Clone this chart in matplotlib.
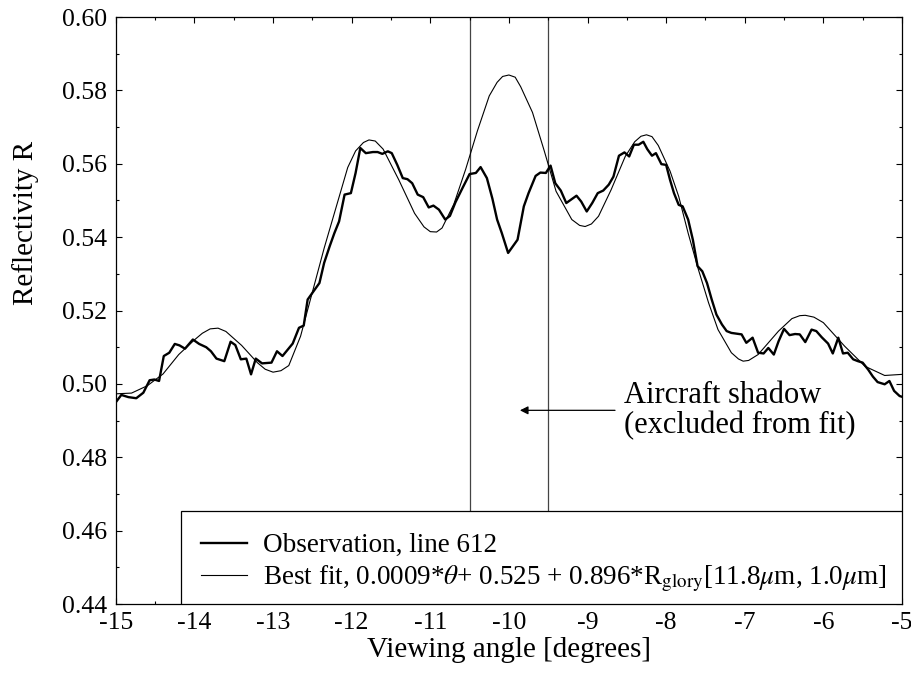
import matplotlib
matplotlib.use("Agg")
import matplotlib.pyplot as plt
from matplotlib.patches import Rectangle
from matplotlib.ticker import MultipleLocator, FormatStrFormatter

plt.rcParams['font.family'] = ['Liberation Serif', 'DejaVu Serif']
plt.rcParams['mathtext.fontset'] = 'stix'
plt.rcParams['axes.unicode_minus'] = False

# Observation, line 612
obs_theta = [-15.00, -14.93, -14.84, -14.74, -14.65, -14.57, -14.51, -14.45, -14.39, -14.32,
             -14.25, -14.19, -14.12, -14.02, -13.94, -13.85, -13.79, -13.72, -13.62, -13.54,
             -13.48, -13.41, -13.34, -13.28, -13.22, -13.14, -13.02, -12.95, -12.88, -12.75,
             -12.67, -12.61, -12.56, -12.50, -12.41, -12.35, -12.28, -12.22, -12.16, -12.09,
             -12.01, -11.95, -11.89, -11.82, -11.73, -11.67, -11.61, -11.54, -11.49, -11.42,
             -11.35, -11.29, -11.23, -11.16, -11.09, -11.02, -10.96, -10.89, -10.81, -10.75,
             -10.68, -10.59, -10.50, -10.42, -10.36, -10.28, -10.21, -10.15, -10.09, -10.01,
             -9.89, -9.81, -9.75, -9.66, -9.60, -9.53, -9.47, -9.41, -9.34, -9.27,
             -9.14, -9.08, -9.01, -8.94, -8.87, -8.80, -8.73, -8.67, -8.60, -8.53,
             -8.47, -8.41, -8.35, -8.29, -8.24, -8.18, -8.13, -8.06, -8.00, -7.95,
             -7.90, -7.84, -7.79, -7.72, -7.66, -7.60, -7.54, -7.48, -7.42, -7.36,
             -7.29, -7.23, -7.17, -7.04, -6.98, -6.90, -6.83, -6.76, -6.70, -6.63,
             -6.57, -6.50, -6.43, -6.36, -6.30, -6.23, -6.15, -6.09, -6.02, -5.94,
             -5.88, -5.81, -5.75, -5.69, -5.62, -5.56, -5.50, -5.43, -5.37, -5.31,
             -5.22, -5.16, -5.10, -5.03, -5.00]
obs_R = [0.4950, 0.4970, 0.4964, 0.4961, 0.4976, 0.5010, 0.5012, 0.5008, 0.5076, 0.5085,
         0.5109, 0.5105, 0.5096, 0.5121, 0.5109, 0.5100, 0.5089, 0.5069, 0.5062, 0.5115,
         0.5106, 0.5067, 0.5069, 0.5026, 0.5069, 0.5056, 0.5058, 0.5089, 0.5076, 0.5110,
         0.5153, 0.5159, 0.5230, 0.5248, 0.5275, 0.5330, 0.5375, 0.5411, 0.5443, 0.5516,
         0.5520, 0.5575, 0.5643, 0.5629, 0.5632, 0.5632, 0.5627, 0.5634, 0.5629, 0.5597,
         0.5561, 0.5558, 0.5547, 0.5516, 0.5509, 0.5481, 0.5486, 0.5475, 0.5448, 0.5458,
         0.5495, 0.5534, 0.5572, 0.5575, 0.5591, 0.5561, 0.5505, 0.5448, 0.5411, 0.5357,
         0.5393, 0.5484, 0.5520, 0.5567, 0.5576, 0.5575, 0.5595, 0.5547, 0.5527, 0.5493,
         0.5513, 0.5497, 0.5470, 0.5493, 0.5520, 0.5527, 0.5543, 0.5565, 0.5622, 0.5631,
         0.5620, 0.5652, 0.5652, 0.5660, 0.5640, 0.5622, 0.5629, 0.5599, 0.5597, 0.5556,
         0.5520, 0.5488, 0.5484, 0.5448, 0.5393, 0.5321, 0.5307, 0.5275, 0.5230, 0.5189,
         0.5162, 0.5144, 0.5139, 0.5135, 0.5112, 0.5126, 0.5085, 0.5083, 0.5098, 0.5080,
         0.5116, 0.5150, 0.5133, 0.5136, 0.5135, 0.5114, 0.5148, 0.5144, 0.5127, 0.5110,
         0.5083, 0.5126, 0.5083, 0.5085, 0.5067, 0.5062, 0.5058, 0.5039, 0.5020, 0.5005,
         0.4999, 0.5008, 0.4981, 0.4967, 0.4965]

# Best fit curve
fit_theta = [-15.00, -14.80, -14.60, -14.40, -14.20, -14.00, -13.90, -13.80, -13.70, -13.60,
             -13.40, -13.20, -13.10, -13.00, -12.90, -12.80, -12.65, -12.50, -12.35, -12.20,
             -12.05, -11.95, -11.85, -11.78, -11.70, -11.60, -11.40, -11.20, -11.08, -11.00,
             -10.92, -10.85, -10.70, -10.55, -10.40, -10.25, -10.15, -10.08, -10.00, -9.92,
             -9.85, -9.70, -9.55, -9.40, -9.20, -9.10, -9.03, -8.95, -8.86, -8.70,
             -8.52, -8.40, -8.32, -8.25, -8.18, -8.10, -7.95, -7.84, -7.72, -7.59,
             -7.46, -7.34, -7.17, -7.08, -7.02, -6.95, -6.83, -6.57, -6.40, -6.30,
             -6.23, -6.12, -6.00, -5.73, -5.47, -5.22, -5.00]
fit_R = [0.4973, 0.4975, 0.4995, 0.5027, 0.5080, 0.5120, 0.5138, 0.5150, 0.5152, 0.5143,
         0.5105, 0.5058, 0.5040, 0.5032, 0.5036, 0.5050, 0.5130, 0.5250, 0.5370, 0.5480,
         0.5590, 0.5635, 0.5658, 0.5665, 0.5662, 0.5640, 0.5556, 0.5465, 0.5428, 0.5415,
         0.5414, 0.5425, 0.5490, 0.5585, 0.5690, 0.5785, 0.5822, 0.5838, 0.5842, 0.5836,
         0.5810, 0.5740, 0.5635, 0.5525, 0.5448, 0.5432, 0.5429, 0.5436, 0.5457, 0.5529,
         0.5620, 0.5660, 0.5675, 0.5679, 0.5674, 0.5650, 0.5580, 0.5511, 0.5411, 0.5312,
         0.5221, 0.5148, 0.5085, 0.5068, 0.5062, 0.5064, 0.5080, 0.5144, 0.5178, 0.5186,
         0.5187, 0.5182, 0.5167, 0.5103, 0.5048, 0.5023, 0.5026]

shadow_edges = [-10.5, -9.5]

fig = plt.figure(figsize=(9.12, 6.81), dpi=100)
ax = fig.add_axes([0.127, 0.113, 0.862, 0.862])

ax.plot(obs_theta, obs_R, color='black', lw=1.7, label='Observation, line 612', zorder=3)
ax.plot(fit_theta, fit_R, color='black', lw=0.8,
        label='Best fit, 0.0009*$\\theta$+ 0.525 + 0.896*R$_{\\rm glory}$[11.8$\\mu$m, 1.0$\\mu$m]',
        zorder=3)
for xe in shadow_edges:
    ax.axvline(xe, color='#444444', lw=0.9, zorder=1)

ax.annotate('', xy=(-9.86, 0.4928), xytext=(-8.65, 0.4928),
            arrowprops=dict(arrowstyle='-|>', color='black', lw=0.9,
                            mutation_scale=12, shrinkA=0, shrinkB=0))
ax.text(-8.54, 0.4928, 'Aircraft shadow\n(excluded from fit)', fontsize=22,
        ha='left', va='center', linespacing=1.05)

ax.set_xlim(-15, -5)
ax.set_ylim(0.44, 0.60)
ax.xaxis.set_major_locator(MultipleLocator(1))
ax.xaxis.set_minor_locator(MultipleLocator(0.5))
ax.yaxis.set_major_locator(MultipleLocator(0.02))
ax.yaxis.set_minor_locator(MultipleLocator(0.01))
ax.xaxis.set_major_formatter(FormatStrFormatter('%d'))
ax.yaxis.set_major_formatter(FormatStrFormatter('%.2f'))
ax.tick_params(which='both', direction='in', top=True, right=True, labelsize=18.5, width=0.8)
ax.tick_params(which='major', length=4.5, pad=6)
ax.tick_params(which='minor', length=2.5)
for sp in ax.spines.values():
    sp.set_linewidth(0.9)

ax.set_xlabel('Viewing angle [degrees]', fontsize=21, labelpad=2)
ax.set_ylabel('Reflectivity R', fontsize=21, labelpad=6)
ax.yaxis.set_label_coords(-0.098, 0.65)

# legend box
box = Rectangle((0.083, 0.0), 0.917, 0.158, transform=ax.transAxes, facecolor='white',
                edgecolor='black', lw=0.9, zorder=4)
ax.add_patch(box)
leg = ax.legend(loc='center left', bbox_to_anchor=(0.108, 0.069), frameon=False,
                fontsize=19.5, borderpad=0.0, handlelength=1.7, handletextpad=0.6,
                labelspacing=0.19, borderaxespad=0.0)
leg.set_zorder(5)

fig.savefig('out.png', dpi=100)
